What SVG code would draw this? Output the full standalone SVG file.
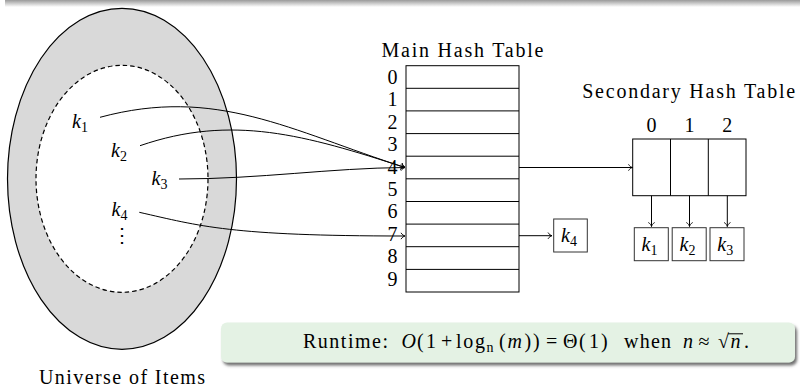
<svg xmlns="http://www.w3.org/2000/svg" width="800" height="387" viewBox="0 0 800 387">
  <defs>
    <style>
      .t { font-family: "Liberation Serif", "Times New Roman", serif; font-size: 20px; fill: #000; }
      .it { font-style: italic; }
      .sub { font-size: 14px; font-style: normal; }
      .ln { fill: none; stroke: #000; stroke-width: 1; }
      .cell { fill: #fff; stroke: #000; stroke-width: 1; }
      .kbox { fill: #fff; stroke: #333; stroke-width: 1; }
      .mid { text-anchor: middle; }
    </style>
    <marker id="to" viewBox="-5 -4 6 8" refX="0" refY="0" markerWidth="6" markerHeight="8" markerUnits="userSpaceOnUse" orient="auto" overflow="visible">
      <path d="M-4,-3.2 C-3,-1.2 -1,-0.3 0,0 C-1,0.3 -3,1.2 -4,3.2" fill="none" stroke="#000" stroke-width="0.9"/>
    </marker>
    <linearGradient id="topShade" x1="0" y1="0" x2="0" y2="1">
      <stop offset="0" stop-color="#9a9a9a"/>
      <stop offset="1" stop-color="#ffffff"/>
    </linearGradient>
    <filter id="drop" x="-5%" y="-30%" width="110%" height="170%">
      <feGaussianBlur in="SourceAlpha" stdDeviation="1.6"/>
      <feOffset dx="1.5" dy="3" result="b"/>
      <feFlood flood-color="#555" flood-opacity="0.85"/>
      <feComposite in2="b" operator="in"/>
      <feMerge><feMergeNode/><feMergeNode in="SourceGraphic"/></feMerge>
    </filter>
  </defs>

  <!-- shade along the top edge -->
  <rect x="5" y="0" width="795" height="7" fill="url(#topShade)"/>

  <!-- universe of items -->
  <g id="universe">
    <ellipse cx="122" cy="178.8" rx="114.5" ry="170.5" fill="#d9d9d9" stroke="#000" stroke-width="1.2"/>
    <ellipse cx="122" cy="178.8" rx="86" ry="113.5" fill="#fff" stroke="#000" stroke-width="1.2" stroke-dasharray="4.5 3"/>
    <text class="t mid" x="122" y="383.5" textLength="166">Universe of Items</text>
  </g>

  <g id="k1"><text class="t it" x="72" y="127.7">k<tspan class="sub" dy="4">1</tspan></text></g>
  <g id="k2"><text class="t it" x="111" y="156.7">k<tspan class="sub" dy="4">2</tspan></text></g>
  <g id="k3"><text class="t it" x="151.5" y="184.5">k<tspan class="sub" dy="4">3</tspan></text></g>
  <g id="k4"><text class="t it" x="111.5" y="215.5">k<tspan class="sub" dy="4">4</tspan></text></g>
  <g id="vdots"><text class="t mid" x="122" y="242" font-family="DejaVu Sans, sans-serif" font-size="17">⋮</text></g>

  <!-- main hash table -->
  <g id="main-table">
    <text class="t mid" x="462.5" y="56.7" textLength="162">Main Hash Table</text>
    <rect class="cell" x="406" y="65.7" width="113" height="226.3"/>
    <path class="ln" d="M406,88.3H519M406,110.9H519M406,133.6H519M406,156.2H519M406,178.8H519M406,201.5H519M406,224.1H519M406,246.7H519M406,269.4H519"/>
    <text class="t mid" x="392.5" y="84">0</text>
    <text class="t mid" x="392.5" y="106.4">1</text>
    <text class="t mid" x="392.5" y="128.8">2</text>
    <text class="t mid" x="392.5" y="151.2">3</text>
    <text class="t mid" x="392.5" y="173.6">4</text>
    <text class="t mid" x="392.5" y="196">5</text>
    <text class="t mid" x="392.5" y="218.4">6</text>
    <text class="t mid" x="392.5" y="240.8">7</text>
    <text class="t mid" x="392.5" y="263.2">8</text>
    <text class="t mid" x="392.5" y="285.6">9</text>
  </g>

  <!-- secondary hash table -->
  <g id="secondary-table">
    <text class="t mid" x="688.7" y="98.3" textLength="213">Secondary Hash Table</text>
    <text class="t mid" x="651.5" y="131.7">0</text>
    <text class="t mid" x="689.5" y="131.7">1</text>
    <text class="t mid" x="727.3" y="131.7">2</text>
    <rect class="cell" x="632.7" y="139" width="113.3" height="56.7"/>
    <path class="ln" d="M670.5,139V195.7M708.3,139V195.7"/>
  </g>

  <g id="s-k1"><rect class="kbox" x="634.3" y="227.7" width="34" height="33"/><text class="t it" x="641.5" y="250.5">k<tspan class="sub" dy="4">1</tspan></text></g>
  <g id="s-k2"><rect class="kbox" x="672.2" y="227.7" width="34" height="33"/><text class="t it" x="679.5" y="250.5">k<tspan class="sub" dy="4">2</tspan></text></g>
  <g id="s-k3"><rect class="kbox" x="710" y="227.7" width="34" height="33"/><text class="t it" x="717.3" y="250.5">k<tspan class="sub" dy="4">3</tspan></text></g>
  <g id="chain-k4"><rect class="kbox" x="553.7" y="219" width="33.6" height="33"/><text class="t it" x="561" y="241.8">k<tspan class="sub" dy="4">4</tspan></text></g>

  <!-- connectors -->
  <g id="connectors" class="ln" marker-end="url(#to)">
    <path d="M100,117.3 C216,86 290,130.5 405,167.5"/>
    <path d="M140,145.7 C232,114 305,135 405,167.5"/>
    <path d="M179,179 C260,179 330,168 405,167.5"/>
    <path d="M139.3,212.3 C200,226 230,236 405,236"/>
    <path d="M519,167.5H632.5"/>
    <path d="M519,235.7H552"/>
    <path d="M651.5,195.7V226.5"/>
    <path d="M689.5,195.7V226.5"/>
    <path d="M727.3,195.7V226.5"/>
  </g>

  <!-- runtime note -->
  <g id="runtime">
    <rect x="221" y="322.5" width="574" height="40" rx="6" fill="#e4f2e4" filter="url(#drop)"/>
    <text class="t" y="348"><tspan x="303" textLength="85">Runtime:</tspan><tspan x="401.5" class="it">O</tspan><tspan x="417">(</tspan><tspan x="426">1</tspan><tspan x="441">+</tspan><tspan x="456" textLength="29">log</tspan><tspan x="486.5" class="sub it" dy="4" font-style="italic">n</tspan><tspan x="499" dy="-4">(</tspan><tspan x="507.5" class="it">m</tspan><tspan x="524.5">)</tspan><tspan x="533">)</tspan><tspan x="546">=</tspan><tspan x="563">Θ</tspan><tspan x="579">(</tspan><tspan x="589">1</tspan><tspan x="601">)</tspan><tspan x="624" textLength="47">when</tspan><tspan x="683" class="it">n</tspan><tspan x="698.5">≈</tspan><tspan x="718">√</tspan><tspan x="730.5" class="it">n</tspan><tspan x="744">.</tspan></text>
    <path class="ln" d="M728,333.8H743"/>
  </g>
</svg>
